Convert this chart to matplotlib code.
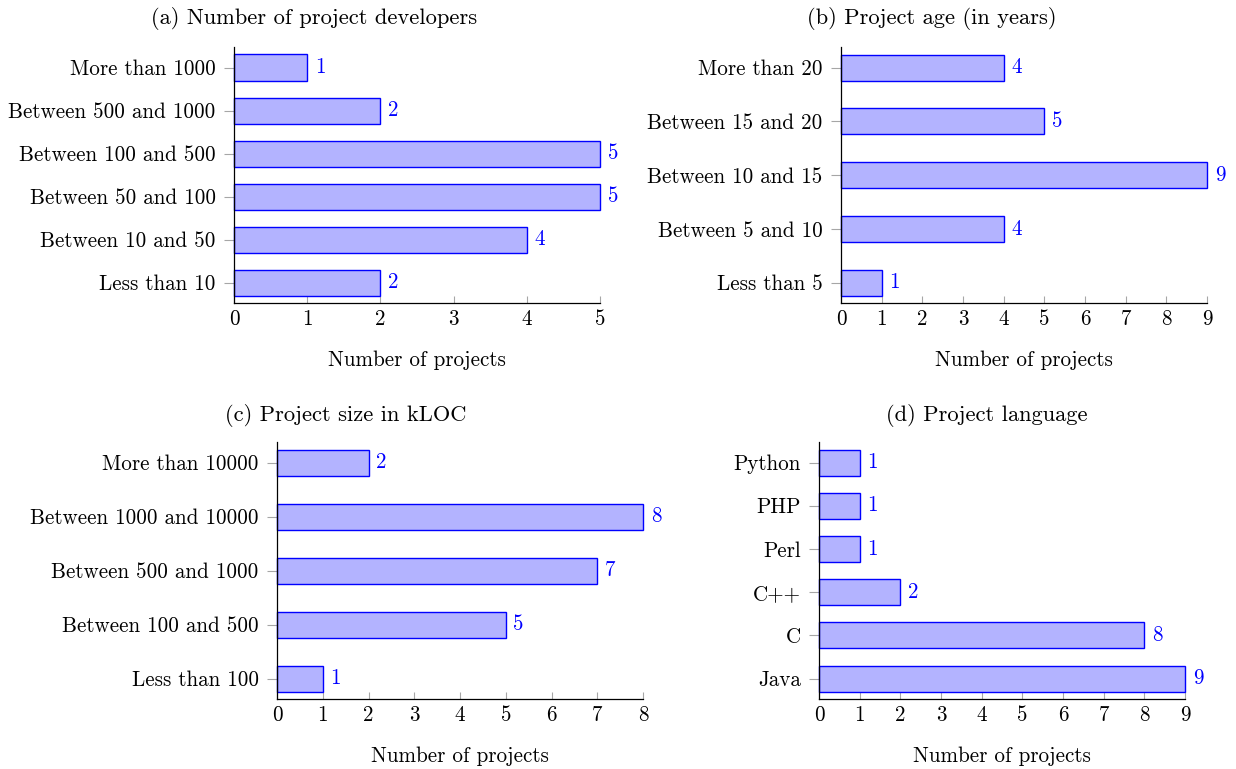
import matplotlib
matplotlib.use("Agg")
import matplotlib.pyplot as plt

plt.rcParams['font.family'] = ['cmr10', 'DejaVu Serif']
plt.rcParams['axes.formatter.use_mathtext'] = True

# ---- data (listed bottom to top) ----
dev_labels = ["Less than 10", "Between 10 and 50", "Between 50 and 100",
              "Between 100 and 500", "Between 500 and 1000", "More than 1000"]
dev_values = [2, 4, 5, 5, 2, 1]

age_labels = ["Less than 5", "Between 5 and 10", "Between 10 and 15",
              "Between 15 and 20", "More than 20"]
age_values = [1, 4, 9, 5, 4]

size_labels = ["Less than 100", "Between 100 and 500", "Between 500 and 1000",
               "Between 1000 and 10000", "More than 10000"]
size_values = [1, 5, 7, 8, 2]

lang_labels = ["Java", "C", "C++", "Perl", "PHP", "Python"]
lang_values = [9, 8, 2, 1, 1, 1]

titles = ["(a) Number of project developers", "(b) Project age (in years)",
          "(c) Project size in kLOC", "(d) Project language"]
xmax = [5, 9, 8, 9]
xlabel = "Number of projects"

# ---- layout (pixels) ----
W, H = 1236, 769
DPI = 100
FS = 15.2
TFS = 16.2
boxes = [(234, 600, 47, 303), (841, 1207, 47, 303),
         (277, 643, 442, 699), (819, 1185, 442, 699)]
title_pos = [(314, 19), (932, 19), (346, 415), (987, 415)]
PAD_PX = 20.5
BAR_PX = 26

fill = (0.7, 0.7, 1.0)
edge = (0.0, 0.0, 1.0)
tickgray = "#a6a6a6"

fig = plt.figure(figsize=(W / DPI, H / DPI), dpi=DPI)

datasets = [(dev_labels, dev_values), (age_labels, age_values),
            (size_labels, size_values), (lang_labels, lang_values)]

for i, ((labels, values), (l, r, t, b)) in enumerate(zip(datasets, boxes)):
    ax = fig.add_axes([l / W, 1 - b / H, (r - l) / W, (b - t) / H])
    n = len(labels)
    hpx = b - t
    spacing = (hpx - 2 * PAD_PX) / (n - 1)
    pad = PAD_PX / spacing
    pos = list(range(n))
    bars = ax.barh(pos, values, height=BAR_PX / spacing, color=fill,
                   edgecolor=edge, linewidth=1.0, zorder=3)
    for bar in bars:
        bar.set_clip_on(False)
    for p, v in zip(pos, values):
        ax.annotate(str(v), xy=(v, p), xytext=(5.5, 0),
                    textcoords="offset points", va="center", ha="left",
                    color=edge, fontsize=FS, clip_on=False)
    ax.set_ylim(-pad, n - 1 + pad)
    ax.set_xlim(0, xmax[i])
    ax.set_yticks(pos)
    ax.set_yticklabels(labels)
    ax.set_xticks(range(xmax[i] + 1))
    ax.set_xticklabels([str(k) for k in range(xmax[i] + 1)])
    for s in ["top", "right"]:
        ax.spines[s].set_visible(False)
    for s in ["left", "bottom"]:
        ax.spines[s].set_linewidth(0.9)
        ax.spines[s].set_color("black")
        ax.spines[s].set_zorder(4)
    ax.tick_params(axis="y", direction="out", length=7.2, width=0.8,
                   color=tickgray, pad=6, labelsize=FS)
    ax.tick_params(axis="x", direction="in", length=4.7, width=0.8,
                   color=tickgray, pad=5.0, labelsize=FS)
    ax.set_xlabel(xlabel, fontsize=FS, labelpad=15)
    ax.set_facecolor("none")
    tx, ty = title_pos[i]
    fig.text(tx / W, 1 - ty / H, titles[i], ha="center", va="center",
             fontsize=TFS)

fig.savefig("out.png", dpi=DPI)
